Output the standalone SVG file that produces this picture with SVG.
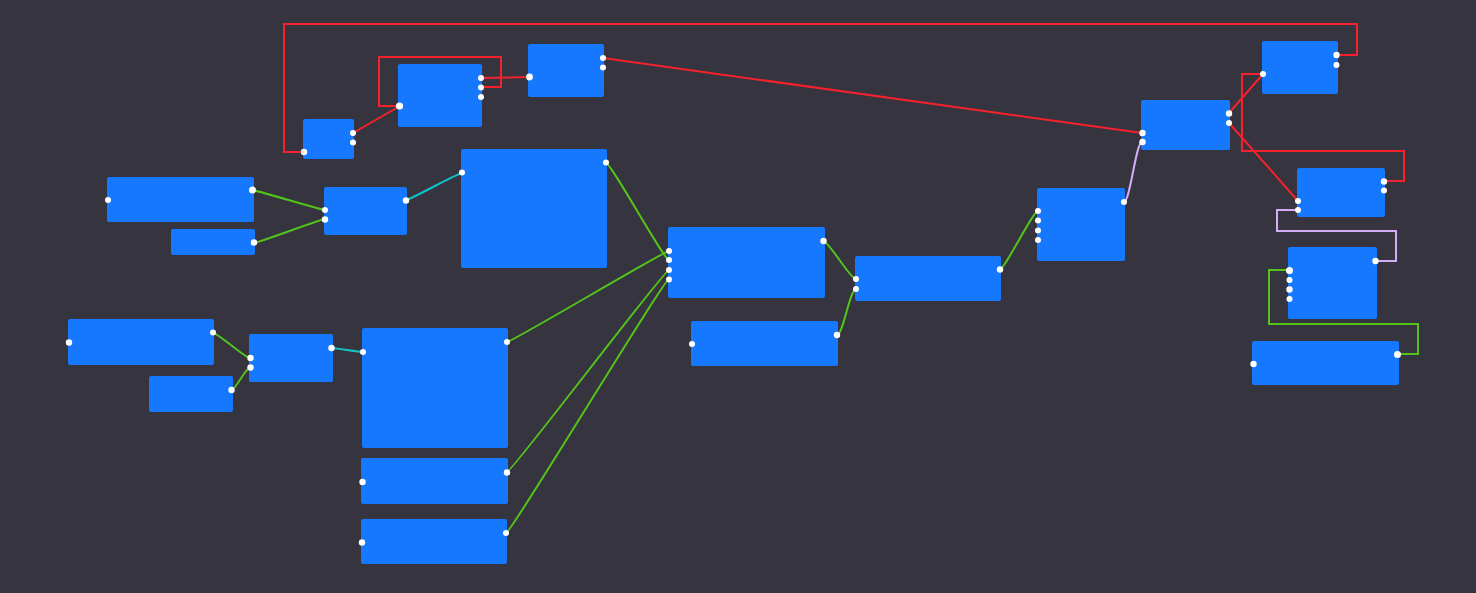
<svg xmlns="http://www.w3.org/2000/svg" width="1476" height="593" viewBox="0 0 1476 593">
  <style>
    .node rect { fill: #1677ff; }
    .port { fill: #ffffff; }
    .wire { fill: none; stroke-width: 2; }
    .red { stroke: #f5222d; }
    .green { stroke: #52c41a; }
    .teal { stroke: #13c2c2; }
    .lilac { stroke: #d3adf7; }
  </style>
  <rect width="1476" height="593" fill="#35343f"/>

  <!-- connectors -->
  <g id="connectors">
    <!-- red flow -->
    <path class="wire red" d="M304,152 H284 V24 H1357 V55 H1336"/>
    <path class="wire red" d="M481,87 H501 V57 H379 V106 H400"/>
    <path class="wire red" d="M353,133 L400,106"/>
    <path class="wire red" d="M481,78 L529,77"/>
    <path class="wire red" d="M603,58 L1142,133"/>
    <path class="wire red" d="M1229,113 L1263,74"/>
    <path class="wire red" d="M1229,123 L1298,201"/>
    <path class="wire red" d="M1384,181 H1404 V151 H1242 V74 H1263"/>
    <!-- lilac -->
    <path class="wire lilac" d="M1124,202 C1130,202 1136,142 1142,142"/>
    <path class="wire lilac" d="M1375,261 H1396 V231 H1277 V210 H1298"/>
    <!-- green -->
    <path class="wire green" d="M1397,354 H1418 V324 H1269 V270 H1289"/>
    <path class="wire green" d="M252,190 C256,190 321,210 325,210"/>
    <path class="wire green" d="M254,243 C258,243 321,219 325,219"/>
    <path class="wire green" d="M213,333 C218,333 245,358 250,358"/>
    <path class="wire green" d="M231,390 C236,390 245,368 250,368"/>
    <path class="wire green" d="M606,163 C611,163 664,260 669,260"/>
    <path class="wire green" d="M507,342 C512,342 664,251 669,251"/>
    <path class="wire green" d="M507,472 C512,472 664,270 669,270"/>
    <path class="wire green" d="M506,533 C511,533 664,279 669,279"/>
    <path class="wire green" d="M823,241 C829,241 850,279 856,279"/>
    <path class="wire green" d="M837,335 C843,335 850,289 856,289"/>
    <path class="wire green" d="M1000,269 C1005,269 1033,211 1038,211"/>
    <!-- teal -->
    <path class="wire teal" d="M406,200 C410,200 458,173 462,173"/>
    <path class="wire teal" d="M331,348 C335,348 359,352 363,352"/>
  </g>

  <!-- nodes -->
  <g id="node-a" class="node">
    <rect x="303" y="119" width="51" height="40" rx="2"/>
    <circle class="port" cx="304" cy="152" r="3.2"/>
    <circle class="port" cx="353" cy="133" r="3"/>
    <circle class="port" cx="353" cy="142.5" r="3"/>
  </g>
  <g id="node-b" class="node">
    <rect x="398" y="64" width="84" height="63" rx="2"/>
    <circle class="port" cx="399.5" cy="106" r="3.6"/>
    <circle class="port" cx="481" cy="78" r="3"/>
    <circle class="port" cx="481" cy="87.5" r="3"/>
    <circle class="port" cx="481" cy="97" r="3"/>
  </g>
  <g id="node-c" class="node">
    <rect x="528" y="44" width="76" height="53" rx="2"/>
    <circle class="port" cx="529.5" cy="77" r="3.4"/>
    <circle class="port" cx="603" cy="58" r="3"/>
    <circle class="port" cx="603" cy="67.5" r="3"/>
  </g>
  <g id="node-j" class="node">
    <rect x="107" y="177" width="147" height="45" rx="2"/>
    <circle class="port" cx="108" cy="200" r="3"/>
    <circle class="port" cx="252.5" cy="190" r="3.5"/>
  </g>
  <g id="node-k" class="node">
    <rect x="171" y="229" width="84" height="26" rx="2"/>
    <circle class="port" cx="254" cy="242.5" r="3.2"/>
  </g>
  <g id="node-l" class="node">
    <rect x="324" y="187" width="83" height="48" rx="2"/>
    <circle class="port" cx="325" cy="210" r="3"/>
    <circle class="port" cx="325" cy="219.5" r="3.2"/>
    <circle class="port" cx="406" cy="200.5" r="3.2"/>
  </g>
  <g id="node-m" class="node">
    <rect x="461" y="149" width="146" height="119" rx="2"/>
    <circle class="port" cx="462" cy="172.5" r="3"/>
    <circle class="port" cx="606" cy="162.5" r="3"/>
  </g>
  <g id="node-n" class="node">
    <rect x="68" y="319" width="146" height="46" rx="2"/>
    <circle class="port" cx="69" cy="342.5" r="3.2"/>
    <circle class="port" cx="213" cy="332.5" r="3"/>
  </g>
  <g id="node-o" class="node">
    <rect x="149" y="376" width="84" height="36" rx="2"/>
    <circle class="port" cx="231.5" cy="390" r="3.2"/>
  </g>
  <g id="node-p" class="node">
    <rect x="249" y="334" width="84" height="48" rx="2"/>
    <circle class="port" cx="250.5" cy="358" r="3.2"/>
    <circle class="port" cx="250.5" cy="367.5" r="3.2"/>
    <circle class="port" cx="331.5" cy="348" r="3.2"/>
  </g>
  <g id="node-q" class="node">
    <rect x="362" y="328" width="146" height="120" rx="2"/>
    <circle class="port" cx="363" cy="352" r="3"/>
    <circle class="port" cx="507" cy="342" r="3"/>
  </g>
  <g id="node-r" class="node">
    <rect x="361" y="458" width="147" height="46" rx="2"/>
    <circle class="port" cx="362.5" cy="482" r="3.2"/>
    <circle class="port" cx="507" cy="472.5" r="3.2"/>
  </g>
  <g id="node-s" class="node">
    <rect x="361" y="519" width="146" height="45" rx="2"/>
    <circle class="port" cx="362" cy="542.5" r="3.2"/>
    <circle class="port" cx="506" cy="533" r="3"/>
  </g>
  <g id="node-t" class="node">
    <rect x="668" y="227" width="157" height="71" rx="2"/>
    <circle class="port" cx="669" cy="251" r="3"/>
    <circle class="port" cx="669" cy="260" r="3"/>
    <circle class="port" cx="669" cy="270" r="3"/>
    <circle class="port" cx="669" cy="279.5" r="3"/>
    <circle class="port" cx="823.5" cy="241" r="3.2"/>
  </g>
  <g id="node-u" class="node">
    <rect x="691" y="321" width="147" height="45" rx="2"/>
    <circle class="port" cx="692" cy="344" r="3"/>
    <circle class="port" cx="837" cy="335" r="3.2"/>
  </g>
  <g id="node-v" class="node">
    <rect x="855" y="256" width="146" height="45" rx="2"/>
    <circle class="port" cx="856" cy="279" r="3"/>
    <circle class="port" cx="856" cy="289" r="3"/>
    <circle class="port" cx="1000" cy="269.5" r="3.2"/>
  </g>
  <g id="node-d" class="node">
    <rect x="1037" y="188" width="88" height="73" rx="2"/>
    <circle class="port" cx="1038" cy="211" r="3"/>
    <circle class="port" cx="1038" cy="220.5" r="3"/>
    <circle class="port" cx="1038" cy="230.5" r="3"/>
    <circle class="port" cx="1038" cy="240" r="3"/>
    <circle class="port" cx="1124" cy="202" r="3"/>
  </g>
  <g id="node-e" class="node">
    <rect x="1141" y="100" width="89" height="50" rx="2"/>
    <circle class="port" cx="1142.5" cy="133" r="3.2"/>
    <circle class="port" cx="1142.5" cy="142" r="3.2"/>
    <circle class="port" cx="1229" cy="113.5" r="3.2"/>
    <circle class="port" cx="1229" cy="123" r="3"/>
  </g>
  <g id="node-f" class="node">
    <rect x="1262" y="41" width="76" height="53" rx="2"/>
    <circle class="port" cx="1263" cy="74" r="3"/>
    <circle class="port" cx="1336.5" cy="55" r="3.2"/>
    <circle class="port" cx="1336.5" cy="65" r="3"/>
  </g>
  <g id="node-g" class="node">
    <rect x="1297" y="168" width="88" height="49" rx="2"/>
    <circle class="port" cx="1298" cy="201" r="3"/>
    <circle class="port" cx="1298" cy="210" r="3"/>
    <circle class="port" cx="1384" cy="181.5" r="3.2"/>
    <circle class="port" cx="1384" cy="190.5" r="3"/>
  </g>
  <g id="node-h" class="node">
    <rect x="1288" y="247" width="89" height="72" rx="2"/>
    <circle class="port" cx="1289.5" cy="270.5" r="3.5"/>
    <circle class="port" cx="1289.5" cy="280" r="3"/>
    <circle class="port" cx="1289.5" cy="289.5" r="3.2"/>
    <circle class="port" cx="1289.5" cy="299" r="3"/>
    <circle class="port" cx="1375.5" cy="261" r="3.2"/>
  </g>
  <g id="node-i" class="node">
    <rect x="1252" y="341" width="147" height="44" rx="2"/>
    <circle class="port" cx="1253.5" cy="364" r="3.2"/>
    <circle class="port" cx="1397.5" cy="354.5" r="3.5"/>
  </g>
</svg>
